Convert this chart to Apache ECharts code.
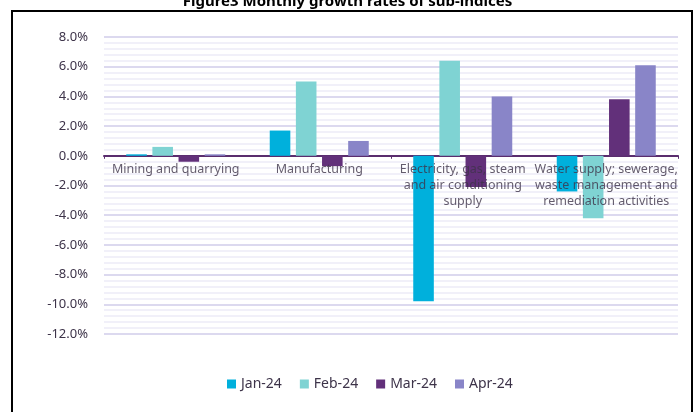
<!DOCTYPE html>
<html>
<head>
<meta charset="utf-8">
<script src="https://cdn.jsdelivr.net/npm/echarts@6/dist/echarts.min.js"></script>
<style>
html, body { margin: 0; padding: 0; background: #fff; }
#chart { width: 695px; height: 412px; }
</style>
</head>
<body>
<div id="chart"></div>
<script>
// sub-indices and monthly growth rates (%)
const categories = [
    'Mining and quarrying',
    'Manufacturing',
    'Electricity, gas, steam\nand air conditioning\nsupply',
    'Water supply; sewerage,\nwaste management and\nremediation activities'
];
const months = ['Jan-24', 'Feb-24', 'Mar-24', 'Apr-24'];
const jan24 = [0.1, 1.7, -9.8, -2.4];
const feb24 = [0.6, 5.0, 6.4, -4.2];
const mar24 = [-0.4, -0.7, -2.1, 3.8];
const apr24 = [0.1, 1.0, 4.0, 6.1];
const colors = ['#00b0dc', '#7fd3d3', '#62307a', '#8985c8'];

const chart = echarts.init(document.getElementById('chart'));
const textColor = '#3d3349';
const font = 'Noto Sans';

const barSeries = [jan24, feb24, mar24, apr24].map((d, i) => ({
    name: months[i],
    type: 'bar',
    data: d,
    barGap: '27%',
    barCategoryGap: '31%',
    itemStyle: { color: colors[i] }
}));

// category labels hang just under the zero line
const labelSeries = {
    name: 'labels',
    type: 'scatter',
    symbolSize: 0,
    silent: true,
    z: 5,
    data: categories.map(c => [c, 0]),
    label: {
        show: true,
        position: 'bottom',
        distance: 6,
        formatter: p => p.name,
        fontSize: 12.5,
        lineHeight: 16,
        color: textColor,
        fontFamily: font,
        align: 'center'
    }
};

chart.setOption({
    animation: false,
    title: {
        text: 'Figure3 Monthly growth rates of sub-indices',
        left: 'center',
        top: -11,
        textStyle: { fontSize: 15, fontWeight: 'bold', color: '#000', fontFamily: font }
    },
    graphic: [{
        type: 'rect',
        shape: { x: 12, y: 11, width: 680, height: 420 },
        style: { fill: 'none', stroke: '#000', lineWidth: 2 },
        silent: true
    }],
    legend: {
        data: months,
        left: 222,
        top: 372,
        itemWidth: 9,
        itemHeight: 9,
        itemGap: 18,
        icon: 'rect',
        textStyle: { fontSize: 14, color: textColor, fontFamily: font }
    },
    grid: { left: 104, right: 17, top: 37, bottom: 78 },
    xAxis: {
        type: 'category',
        data: categories,
        axisLine: { onZero: true, lineStyle: { color: '#5a2d6e', width: 2 } },
        axisTick: { show: true, length: 3, lineStyle: { color: '#5a2d6e' } },
        axisLabel: { show: false }
    },
    yAxis: {
        type: 'value',
        min: -12,
        max: 8,
        interval: 2,
        axisLine: { show: false },
        axisTick: { show: false },
        axisLabel: {
            fontSize: 13, color: textColor, fontFamily: font, margin: 16,
            formatter: v => v.toFixed(1) + '%'
        },
        splitLine: { lineStyle: { color: '#dcd9ef', width: 2 } },
        minorTick: { show: false, splitNumber: 5 },
        minorSplitLine: { show: true, lineStyle: { color: '#f1f0f9', width: 2 } }
    },
    series: barSeries.concat([labelSeries])
});
</script>
</body>
</html>
